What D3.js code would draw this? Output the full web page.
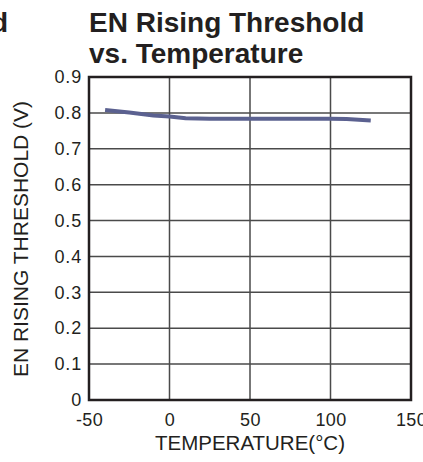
<!DOCTYPE html>
<html><head><meta charset="utf-8">
<script src="https://cdn.jsdelivr.net/npm/d3@7"></script>
<style>body{margin:0;background:#fff}svg{display:block}text{font-family:"Liberation Sans",Arial,sans-serif;fill:#231f20}</style>
</head><body><svg width="423" height="462"></svg>
<script>
const temps = [-40, -25, -10, 0, 10, 25, 50, 75, 100, 110, 125];
const threshold = [0.808, 0.801, 0.793, 0.790, 0.785, 0.784, 0.784, 0.784, 0.784, 0.783, 0.779];
const xTicks = [-50, 0, 50, 100, 150];
const yTicks = [0, 0.1, 0.2, 0.3, 0.4, 0.5, 0.6, 0.7, 0.8, 0.9];
const titleLines = ["EN Rising Threshold", "vs. Temperature"];
const xLabel = "TEMPERATURE(°C)";
const yLabel = "EN RISING THRESHOLD (V)";

const svg = d3.select("svg");
const L = 89, R = 411, T = 77, B = 400;
const x = d3.scaleLinear().domain([-50, 150]).range([L, R]);
const y = d3.scaleLinear().domain([0, 0.9]).range([B, T]);
const FF = "Liberation Sans, Arial, sans-serif";

// neighbouring chart remnant
svg.append("text").attr("x", -9).attr("y", 32).attr("font-size", 28).attr("font-weight", "bold").text("d");

// title
svg.selectAll("text.title").data(titleLines).join("text").attr("class","title")
  .attr("x", 89).attr("y", (d,i)=>32+i*30.5).attr("font-size", 28).attr("font-weight","bold").text(d=>d);

// grid
const g = svg.append("g");
g.selectAll("line.vg").data(xTicks.slice(1,-1)).join("line")
  .attr("x1", d=>x(d)).attr("x2", d=>x(d)).attr("y1", T).attr("y2", B)
  .attr("stroke", "#4a4a4a").attr("stroke-width", 1.5);
g.selectAll("line.hg").data(yTicks.slice(1,-1)).join("line")
  .attr("y1", d=>y(d)).attr("y2", d=>y(d)).attr("x1", L).attr("x2", R)
  .attr("stroke", "#4a4a4a").attr("stroke-width", 1.5);
// frame
g.append("rect").attr("x", L).attr("y", T).attr("width", R-L).attr("height", B-T)
  .attr("fill","none").attr("stroke","#231f20").attr("stroke-width", 2.5);

// axes labels
const xa = svg.append("g").attr("transform", `translate(0,${B})`)
  .call(d3.axisBottom(x).tickValues(xTicks).tickSize(0).tickPadding(13).tickFormat(d=>String(d)));
xa.select(".domain").remove();
xa.selectAll("text").attr("font-size", 18).attr("letter-spacing", 0.4).attr("font-family", FF).attr("fill","#231f20");
const ya = svg.append("g").attr("transform", `translate(${L},0)`)
  .call(d3.axisLeft(y).tickValues(yTicks).tickSize(0).tickPadding(7).tickFormat(d=> d===0 ? "0" : d3.format(".1f")(d)));
ya.select(".domain").remove();
ya.selectAll("text").attr("font-size", 18).attr("letter-spacing", 0.8).attr("font-family", FF).attr("fill","#231f20");

svg.append("text").attr("x", 250).attr("y", 450).attr("text-anchor","middle").attr("font-size", 20.5).text(xLabel);
svg.append("text").attr("transform", "translate(28,239) rotate(-90)").attr("text-anchor","middle").attr("font-size", 21).text(yLabel);

// data line
svg.append("path").datum(temps.map((t,i)=>[t, threshold[i]]))
  .attr("d", d3.line().x(d=>x(d[0])).y(d=>y(d[1])))
  .attr("fill","none").attr("stroke","#5b6190").attr("stroke-width", 4);
</script></body></html>
